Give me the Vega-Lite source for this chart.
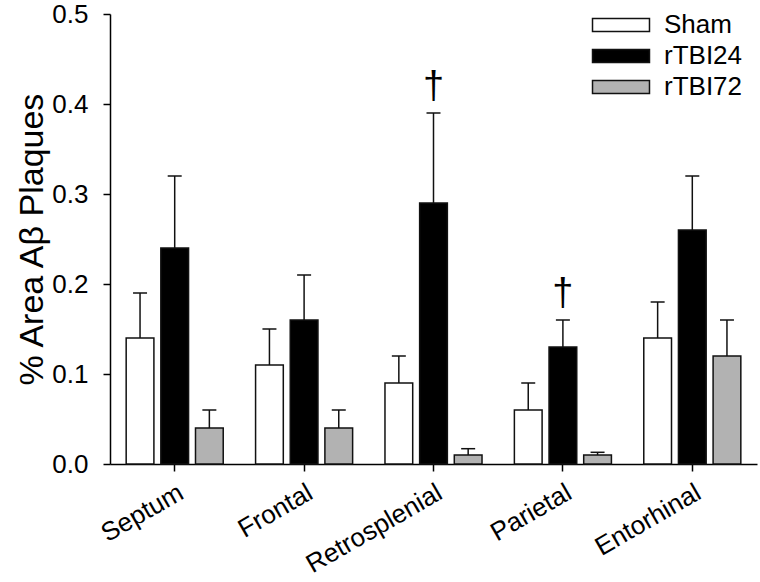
{
  "$schema": "https://vega.github.io/schema/vega-lite/v6.json",
  "width": 647,
  "height": 450,
  "autosize": {"type": "none"},
  "padding": {"left": 110, "top": 14, "right": 3, "bottom": 118},
  "background": "white",
  "config": {
    "view": {"stroke": null},
    "font": "Liberation Sans",
    "axis": {"domainColor": "black", "tickColor": "black", "labelColor": "black", "titleColor": "black", "grid": false, "domainWidth": 1.5, "tickWidth": 1.5}
  },
  "data": {
    "values": [
      {"region": "Septum", "group": "Sham", "value": 0.14, "upper": 0.19, "sig": ""},
      {"region": "Septum", "group": "rTBI24", "value": 0.24, "upper": 0.32, "sig": ""},
      {"region": "Septum", "group": "rTBI72", "value": 0.04, "upper": 0.06, "sig": ""},
      {"region": "Frontal", "group": "Sham", "value": 0.11, "upper": 0.15, "sig": ""},
      {"region": "Frontal", "group": "rTBI24", "value": 0.16, "upper": 0.21, "sig": ""},
      {"region": "Frontal", "group": "rTBI72", "value": 0.04, "upper": 0.06, "sig": ""},
      {"region": "Retrosplenial", "group": "Sham", "value": 0.09, "upper": 0.12, "sig": ""},
      {"region": "Retrosplenial", "group": "rTBI24", "value": 0.29, "upper": 0.39, "sig": "†"},
      {"region": "Retrosplenial", "group": "rTBI72", "value": 0.01, "upper": 0.017, "sig": ""},
      {"region": "Parietal", "group": "Sham", "value": 0.06, "upper": 0.09, "sig": ""},
      {"region": "Parietal", "group": "rTBI24", "value": 0.13, "upper": 0.16, "sig": "†"},
      {"region": "Parietal", "group": "rTBI72", "value": 0.01, "upper": 0.013, "sig": ""},
      {"region": "Entorhinal", "group": "Sham", "value": 0.14, "upper": 0.18, "sig": ""},
      {"region": "Entorhinal", "group": "rTBI24", "value": 0.26, "upper": 0.32, "sig": ""},
      {"region": "Entorhinal", "group": "rTBI72", "value": 0.12, "upper": 0.16, "sig": ""}
    ]
  },
  "encoding": {
    "x": {
      "field": "region", "type": "nominal",
      "sort": ["Septum", "Frontal", "Retrosplenial", "Parietal", "Entorhinal"],
      "scale": {"paddingInner": 0.25, "paddingOuter": 0.125},
      "axis": {"title": null, "labelAngle": -30, "labelFontSize": 26, "labelAlign": "right", "labelBaseline": "top", "tickSize": 7, "labelPadding": 8, "labelOffset": 0}
    },
    "xOffset": {
      "field": "group", "type": "nominal",
      "sort": ["Sham", "rTBI24", "rTBI72"],
      "scale": {"paddingInner": 0.2, "paddingOuter": 0}
    },
    "y": {
      "field": "value", "type": "quantitative",
      "scale": {"domain": [0, 0.5], "nice": false},
      "axis": {"title": "% Area Aβ Plaques", "titleFontSize": 34, "titleFontWeight": "normal", "titlePadding": 2, "labelFontSize": 26, "format": ".1f", "values": [0, 0.1, 0.2, 0.3, 0.4, 0.5], "tickSize": 7, "labelPadding": 15}
    }
  },
  "layer": [
    {
      "mark": {"type": "bar", "stroke": "#111111", "strokeWidth": 1.5, "opacity": 1},
      "encoding": {
        "fill": {
          "field": "group", "type": "nominal",
          "sort": ["Sham", "rTBI24", "rTBI72"],
          "scale": {"domain": ["Sham", "rTBI24", "rTBI72"], "range": ["#ffffff", "#000000", "#b2b2b2"]},
          "legend": {
            "title": null, "orient": "none", "legendX": 498, "legendY": -2,
            "symbolType": "M-4.07,-0.93H4.07V0.93H-4.07Z", "symbolSize": 196,
            "symbolStrokeColor": "#111111", "symbolStrokeWidth": 1.5, "symbolOpacity": 1,
            "labelFontSize": 26, "labelOffset": 30, "rowPadding": 5, "labelColor": "black"
          }
        }
      }
    },
    {
      "mark": {"type": "rule", "color": "#111111", "strokeWidth": 1.5},
      "encoding": {"y2": {"field": "upper"}}
    },
    {
      "mark": {"type": "tick", "orient": "horizontal", "color": "#111111", "size": 14, "thickness": 1.5, "opacity": 1},
      "encoding": {"y": {"field": "upper", "type": "quantitative"}}
    },
    {
      "mark": {"type": "text", "fontSize": 38, "baseline": "bottom", "dy": -7, "color": "black"},
      "encoding": {"y": {"field": "upper", "type": "quantitative"}, "text": {"field": "sig"}}
    }
  ]
}
